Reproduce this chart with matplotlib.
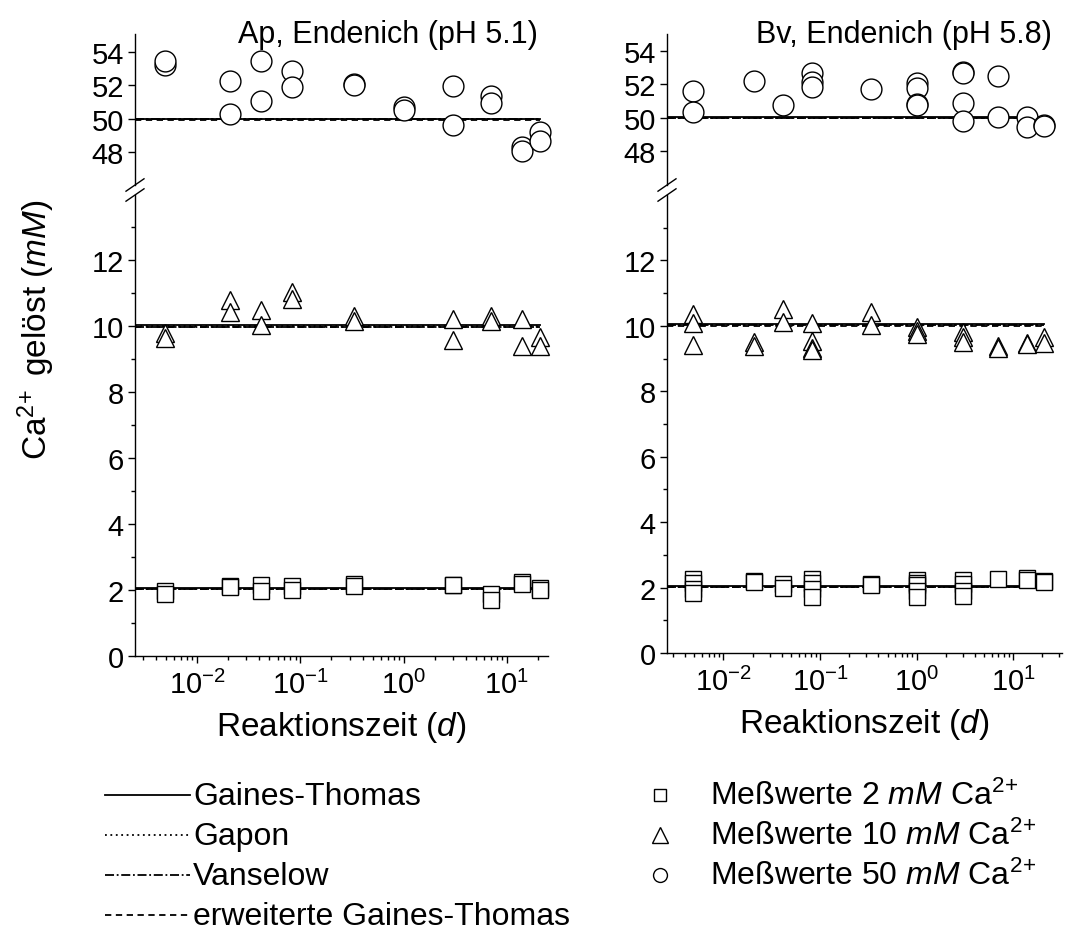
import numpy as np
import matplotlib
matplotlib.use('Agg')
import matplotlib.pyplot as plt
from matplotlib.lines import Line2D
from matplotlib.ticker import FixedLocator, LogLocator, NullFormatter

plt.rcParams['font.family'] = ['Liberation Sans', 'DejaVu Sans']
plt.rcParams['mathtext.fontset'] = 'custom'
plt.rcParams['mathtext.rm'] = 'Liberation Sans'
plt.rcParams['mathtext.it'] = 'Liberation Sans:italic'
plt.rcParams['mathtext.bf'] = 'Liberation Sans:bold'

W, H = 1075, 953

# Reaktionszeiten in Tagen
# --- Ap, Endenich ---
ap_t2 = [0.00486, 0.00486, 0.0208, 0.0208, 0.0417, 0.0417, 0.0833, 0.0833,
         0.333, 0.333, 3, 3, 7, 7, 14, 14, 21, 21]
ap_c2 = [1.96, 1.88, 2.13, 2.08, 2.16, 1.96, 2.13, 2.01,
         2.18, 2.12, 2.16, 2.14, 1.88, 1.71, 2.25, 2.17, 2.06, 2.00]
ap_t10 = [0.00486, 0.00486, 0.0208, 0.0208, 0.0417, 0.0417, 0.0833, 0.0833,
          0.333, 0.333, 3, 3, 7, 7, 14, 14, 21, 21]
ap_c10 = [9.78, 9.64, 10.78, 10.42, 10.48, 10.02, 11.02, 10.82,
          10.30, 10.15, 10.20, 9.57, 10.30, 10.15, 10.20, 9.40, 9.67, 9.38]
ap_t50 = [0.00486, 0.00486, 0.0208, 0.0208, 0.0417, 0.0417, 0.0833, 0.0833,
          0.333, 0.333, 1, 1, 3, 3, 7, 7, 14, 14, 21, 21]
ap_c50 = [53.20, 53.45, 52.25, 50.28, 53.45, 51.10, 52.85, 51.90,
          52.10, 52.00, 50.70, 50.55, 51.95, 49.65, 51.35, 50.95,
          48.30, 48.10, 49.20, 48.70]

# --- Bv, Endenich ---
bv_t2 = [0.00486, 0.00486, 0.00486, 0.00486, 0.0208, 0.0208, 0.0417, 0.0417,
         0.0833, 0.0833, 0.0833, 0.0833, 0.333, 0.333,
         1, 1, 1, 1, 1, 3, 3, 3, 3, 7, 14, 14, 21, 21]
bv_c2 = [2.25, 2.15, 1.95, 1.82, 2.20, 2.18, 2.10, 2.00,
         2.25, 2.15, 1.95, 1.70, 2.10, 2.08,
         2.22, 2.15, 2.08, 1.90, 1.72, 2.22, 2.12, 1.90, 1.75,
         2.25, 2.28, 2.22, 2.20, 2.17]
bv_t10 = [0.00486, 0.00486, 0.00486, 0.0208, 0.0208, 0.0417, 0.0417,
          0.0833, 0.0833, 0.0833, 0.0833, 0.333, 0.333,
          1, 1, 1, 3, 3, 3, 7, 7, 14, 14, 21, 21]
bv_c10 = [10.35, 10.10, 9.42, 9.52, 9.38, 10.52, 10.12,
          10.10, 9.55, 9.32, 9.25, 10.42, 10.03,
          9.95, 9.85, 9.75, 9.80, 9.65, 9.50, 9.38, 9.33, 9.48, 9.45, 9.65, 9.47]
bv_t50 = [0.00486, 0.00486, 0.0208, 0.0417, 0.0833, 0.0833, 0.0833, 0.333,
          1, 1, 1, 1, 3, 3, 3, 3, 7, 7, 14, 14, 21, 21]
bv_c50 = [51.60, 50.35, 52.20, 50.75, 52.70, 52.15, 51.85, 51.70,
          52.10, 51.80, 50.80, 50.75, 52.75, 52.65, 50.90, 49.80,
          52.50, 50.05, 50.05, 49.45, 49.60, 49.50]

# Modellrechnungen (Niveau 50, 10, 2 mM)
ap_model_t = [0.0025, 21]
ap_gaines = [50.02, 10.02, 2.05]
ap_gapon = [49.98, 9.99, 2.03]
ap_vanselow = [49.97, 9.98, 2.02]
ap_erw = [49.96, 9.97, 2.02]

bv_model_t = [0.0026, 21]
bv_gaines = [50.05, 10.07, 2.05]
bv_gapon = [50.01, 10.03, 2.02]
bv_vanselow = [50.00, 10.02, 2.01]
bv_erw = [49.99, 10.01, 2.01]

model_names = ['Gaines-Thomas', 'Gapon', 'Vanselow', 'erweiterte Gaines-Thomas']
model_styles = [dict(ls='-'), dict(ls=(0, (1, 2))), dict(ls=(0, (5, 1.5, 1, 1.5))),
                dict(ls=(0, (3.5, 2.5)))]

meas_labels = [r'Meßwerte 2 $\mathit{mM}$ Ca$^{2\!+}$',
               r'Meßwerte 10 $\mathit{mM}$ Ca$^{2\!+}$',
               r'Meßwerte 50 $\mathit{mM}$ Ca$^{2\!+}$']
meas_markers = [('s', 9), ('^', 11), ('o', 10)]

FS_TICK = 21
FS_TITLE = 22
FS_LAB = 24
FS_LEG = 23


def fx(px):
    return px / W


def fy(py):
    return 1 - py / H


def style_axis(ax, lw=1.0):
    for s in ['top', 'right']:
        ax.spines[s].set_visible(False)
    ax.spines['left'].set_linewidth(lw)
    ax.spines['bottom'].set_linewidth(lw)
    ax.tick_params(which='major', direction='out', length=5, width=lw,
                   labelsize=FS_TICK, pad=3)
    ax.tick_params(which='minor', direction='out', length=3, width=lw)


def panel(x0, x1, ybot, xlim, ylo_top, yup_lim, title, t2, c2, t10, c10,
          t50, c50, mt, models):
    ax_lo = fig.add_axes([fx(x0), fy(ybot), fx(x1) - fx(x0), fy(196) - fy(ybot)])
    ax_up = fig.add_axes([fx(x0), fy(186), fx(x1) - fx(x0), fy(35) - fy(186)])
    for ax in (ax_lo, ax_up):
        ax.set_xscale('log')
        ax.set_xlim(*xlim)
        style_axis(ax)
        ax.patch.set_alpha(0)

    ax_lo.set_ylim(0, ylo_top)
    ax_lo.yaxis.set_major_locator(FixedLocator([0, 2, 4, 6, 8, 10, 12]))
    ax_lo.yaxis.set_minor_locator(FixedLocator([1, 3, 5, 7, 9, 11, 13]))
    ax_lo.xaxis.set_major_locator(LogLocator(base=10, numticks=20))
    ax_lo.xaxis.set_minor_locator(LogLocator(base=10, subs=np.arange(2, 10),
                                             numticks=20))
    ax_lo.xaxis.set_minor_formatter(NullFormatter())
    ax_lo.tick_params(axis='x', which='major', pad=5)

    ax_up.set_ylim(*yup_lim)
    ax_up.yaxis.set_major_locator(FixedLocator([48, 50, 52, 54]))
    ax_up.yaxis.set_minor_locator(FixedLocator([]))
    ax_up.spines['bottom'].set_visible(False)
    ax_up.tick_params(axis='x', which='both', bottom=False, labelbottom=False)

    # Modellkurven
    for vals, st in zip(models, model_styles):
        ax_up.plot(mt, [vals[0]] * 2, color='black', lw=1.3, **st)
        ax_lo.plot(mt, [vals[1]] * 2, color='black', lw=1.3, **st)
        ax_lo.plot(mt, [vals[2]] * 2, color='black', lw=1.3, **st)

    mk = dict(ls='none', mfc='white', mec='black', mew=1.0, clip_on=False)
    ax_lo.plot(t2, c2, marker='s', ms=11, **mk)
    ax_lo.plot(t10, c10, marker='^', ms=13, **mk)
    ax_up.plot(t50, c50, marker='o', ms=15, **mk)

    # Achsenbruch
    xs = fx(x0)
    for yb in (fy(186), fy(196)):
        fig.add_artist(Line2D([xs - fx(9), xs + fx(9)], [yb - 0.0065, yb + 0.0065],
                              transform=fig.transFigure, color='black', lw=1.0))

    fig.text(fx(x1 - 10), fy(43), title, ha='right', va='baseline',
             fontsize=FS_TITLE)
    fig.text((fx(x0) + fx(x1)) / 2, fy(ybot + 79), r'Reaktionszeit ($\mathit{d}$)',
             ha='center', va='baseline', fontsize=FS_LAB)
    return ax_lo, ax_up


fig = plt.figure(figsize=(W / 100, H / 100), dpi=100)

panel(135, 548, 657, (0.0025, 25), 13.97, (46.06, 55.07),
      'Ap, Endenich (pH 5.1)', ap_t2, ap_c2, ap_t10, ap_c10, ap_t50, ap_c50,
      ap_model_t, [ap_gaines, ap_gapon, ap_vanselow, ap_erw])
panel(667, 1062, 654, (0.0026, 32), 14.0, (46.0, 55.0),
      'Bv, Endenich (pH 5.8)', bv_t2, bv_c2, bv_t10, bv_c10, bv_t50, bv_c50,
      bv_model_t, [bv_gaines, bv_gapon, bv_vanselow, bv_erw])

fig.text(fx(36), fy(330), r'Ca$^{2\!+}$ gelöst $\mathit{(mM)}$', rotation=90,
         ha='center', va='center', fontsize=FS_LAB)

# Legende: Modelle links, Messwerte rechts
row_y = [796, 836, 876, 916]
for y, name, st in zip(row_y, model_names, model_styles):
    fig.add_artist(Line2D([fx(105), fx(190)], [fy(y), fy(y)], transform=fig.transFigure,
                          color='black', lw=1.3, **st))
    fig.text(fx(193), fy(y + 9), name, ha='left', va='baseline', fontsize=FS_LEG)

for y, lab, (m, s) in zip(row_y, meas_labels, meas_markers):
    fig.add_artist(Line2D([fx(660)], [fy(y)], transform=fig.transFigure, ls='none',
                          marker=m, ms=s, mfc='white', mec='black', mew=1.0))
    fig.text(fx(710), fy(y + 9), lab, ha='left', va='baseline', fontsize=FS_LEG)

fig.savefig('out.png', dpi=100)
